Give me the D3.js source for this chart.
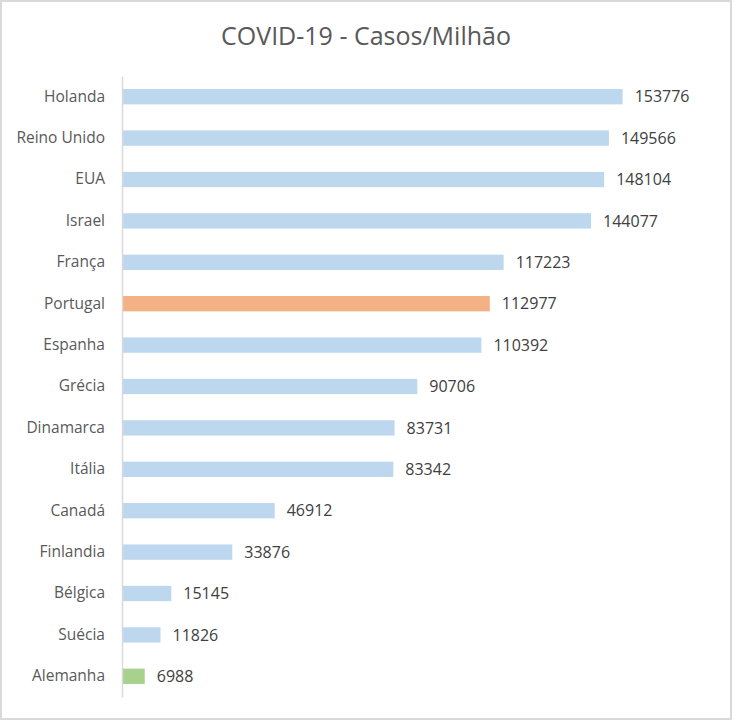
<!DOCTYPE html>
<html>
<head>
<meta charset="utf-8">
<script src="https://cdn.jsdelivr.net/npm/d3@7"></script>
<style>
    html, body { margin: 0; padding: 0; background: #fff; }
    svg { display: block; }
</style>
</head>
<body>
<div id="chart"></div>
<script>
// dados
const countries = ['Holanda', 'Reino Unido', 'EUA', 'Israel', 'França', 'Portugal', 'Espanha',
    'Grécia', 'Dinamarca', 'Itália', 'Canadá', 'Finlandia', 'Bélgica', 'Suécia', 'Alemanha'];
const casesPerMillion = [153776, 149566, 148104, 144077, 117223, 112977, 110392,
    90706, 83731, 83342, 46912, 33876, 15145, 11826, 6988];
const highlight = { 'Portugal': '#F4B183', 'Alemanha': '#A9D18E' };

const width = 732;
const height = 720;
const margin = { top: 76, right: 24, bottom: 23, left: 122 };

const svg = d3.select('#chart')
    .append('svg')
    .attr('width', width)
    .attr('height', height);

// moldura
svg.append('rect')
    .attr('x', 1)
    .attr('y', 1)
    .attr('width', width - 2)
    .attr('height', height - 2)
    .attr('fill', '#fff')
    .attr('stroke', '#d9d9d9')
    .attr('stroke-width', 2);

svg.append('text')
    .attr('x', width / 2)
    .attr('y', 45)
    .attr('text-anchor', 'middle')
    .attr('fill', '#595959')
    .style('font-family', '"Open Sans", sans-serif')
    .style('font-size', '25px')
    .text('COVID-19 - Casos/Milhão');

const x = d3.scaleLinear()
    .domain([0, 180000])
    .range([margin.left, margin.left + 586]);

const y = d3.scaleBand()
    .domain(countries)
    .range([margin.top, height - margin.bottom])
    .paddingInner(0.63)
    .paddingOuter(0.315);

const data = countries.map((c, i) => ({ name: c, value: casesPerMillion[i] }));

svg.selectAll('.bar')
    .data(data)
    .enter()
    .append('rect')
    .attr('class', 'bar')
    .attr('x', x(0))
    .attr('y', d => y(d.name))
    .attr('width', d => x(d.value) - x(0))
    .attr('height', y.bandwidth())
    .attr('fill', d => highlight[d.name] || '#BDD7EE');

// eixo vertical
const yAxis = svg.append('g')
    .attr('transform', `translate(${margin.left},0)`)
    .call(d3.axisLeft(y).tickSize(0).tickPadding(17));

yAxis.select('.domain')
    .attr('stroke', '#d9d9d9')
    .attr('stroke-width', 1.5);

yAxis.selectAll('text')
    .attr('fill', '#595959')
    .style('font-family', '"Open Sans", sans-serif')
    .style('font-size', '15.5px');

svg.selectAll('.value-label')
    .data(data)
    .enter()
    .append('text')
    .attr('class', 'value-label')
    .attr('x', d => x(d.value) + 12)
    .attr('y', d => y(d.name) + y.bandwidth() / 2)
    .attr('dy', '0.35em')
    .attr('fill', '#404040')
    .style('font-family', '"Open Sans", sans-serif')
    .style('font-size', '16px')
    .text(d => d.value);
</script>
</body>
</html>
